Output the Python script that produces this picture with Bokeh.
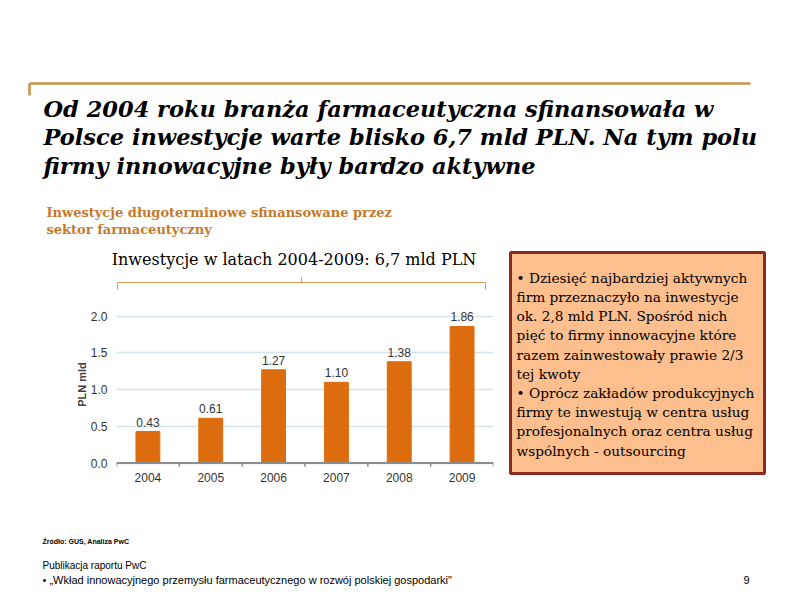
from bokeh.plotting import figure
from bokeh.layouts import column, row
from bokeh.models import Range1d, FactorRange, FixedTicker, NumeralTickFormatter
from bokeh.core.properties import value
from bokeh.embed import file_html
from bokeh.resources import INLINE

# ---- data ----
years = ["2004", "2005", "2006", "2007", "2008", "2009"]
investments = [0.43, 0.61, 1.27, 1.10, 1.38, 1.86]
y_ticks = [0.0, 0.5, 1.0, 1.5, 2.0]

title_lines = [
    "Od 2004 roku branża farmaceutyczna sfinansowała w",
    "Polsce inwestycje warte blisko 6,7 mld PLN. Na tym polu",
    "firmy innowacyjne były bardzo aktywne",
]
subtitle_lines = [
    "Inwestycje długoterminowe sfinansowane przez",
    "sektor farmaceutyczny",
]
chart_header = "Inwestycje w latach 2004-2009: 6,7 mld PLN"
y_label = "PLN mld"
box_lines = [
    "• Dziesięć najbardziej aktywnych",
    "firm przeznaczyło na inwestycje",
    "ok. 2,8 mld PLN. Spośród nich",
    "pięć to firmy innowacyjne które",
    "razem zainwestowały prawie 2/3",
    "tej kwoty",
    "• Oprócz zakładów produkcyjnych",
    "firmy te inwestują w centra usług",
    "profesjonalnych oraz centra usług",
    "wspólnych - outsourcing",
]
source_text = "Źródło: GUS, Analiza PwC"
footer_line1 = "Publikacja raportu  PwC"
footer_line2 = "• „Wkład innowacyjnego przemysłu farmaceutycznego w rozwój polskiej gospodarki\""
page_number = "9"

ORANGE_LINE = "#C8914A"
BAR = "#DD6C0E"
SERIF = value("DejaVu Serif")
SANS = value("Liberation Sans")


def deco(w, h, **kw):
    f = figure(width=w, height=h, x_range=Range1d(0, w), y_range=Range1d(h, 0),
               min_border=0, toolbar_location=None, output_backend="svg",
               x_axis_type=None, y_axis_type=None, outline_line_color=None, **kw)
    f.grid.visible = False
    f.frame_align = False
    return f


# ---- header (page y 0..250) ----
hdr = deco(792, 250)
hdr.segment(x0=[29], y0=[83], x1=[750], y1=[83], line_color=ORANGE_LINE, line_width=2.5)
hdr.segment(x0=[29], y0=[83], x1=[29], y1=[95], line_color=ORANGE_LINE, line_width=2.5)
hdr.text(x=[43] * len(title_lines), y=[108 + 28.5 * i for i in range(len(title_lines))],
         text=title_lines, text_font=SERIF, text_font_style="bold italic",
         text_font_size="22.5px", text_baseline="alphabetic", text_color="#000000")
hdr.text(x=[46] * len(subtitle_lines), y=[212 + 16.5 * i for i in range(len(subtitle_lines))],
         text=subtitle_lines, text_font=SERIF, text_font_style="bold",
         text_font_size="13px", text_baseline="alphabetic", text_color="#C47A2C")

# ---- chart header with bracket (page y 250..295) ----
sub = deco(505, 45)
sub.text(x=[293.5], y=[9], text=[chart_header], text_font=SERIF, text_font_size="16px",
         text_align="center", text_baseline="middle", text_color="#000000")
BR = "#DA9A52"
sub.segment(x0=[117], y0=[32], x1=[485], y1=[32], line_color=BR, line_width=1)
sub.segment(x0=[117, 485], y0=[32, 32], x1=[117, 485], y1=[39, 39], line_color=BR, line_width=1)
sub.segment(x0=[301], y0=[32], x1=[301], y1=[27], line_color=BR, line_width=1)

# ---- bar chart (page y 295..490) ----
p = figure(width=505, height=195, x_range=FactorRange(factors=years, range_padding=0),
           y_range=Range1d(-0.06, 2.2), min_border_left=116, min_border_right=12,
           min_border_top=6, min_border_bottom=23, toolbar_location=None,
           output_backend="svg", outline_line_color=None)
p.frame_align = False
p.vbar(x=years, top=investments, width=0.38, color=BAR)
p.segment(x0=[0], y0=[0], x1=[len(years)], y1=[0], line_color="#8C8C8C", line_width=2)
bounds = list(range(len(years) + 1))
p.segment(x0=bounds, y0=[0] * len(bounds), x1=bounds, y1=[-0.05] * len(bounds),
          line_color="#8C8C8C", line_width=1.5)
p.text(x=years, y=investments, text=[f"{v:.2f}" for v in investments],
       text_align="center", text_baseline="bottom", y_offset=-5,
       text_font=SANS, text_font_size="12px", text_color="#333333")
p.xgrid.grid_line_color = None
p.ygrid.grid_line_color = "#D5E3EA"
p.ygrid.grid_line_width = 1.5
p.yaxis.ticker = FixedTicker(ticks=y_ticks)
p.yaxis.formatter = NumeralTickFormatter(format="0.0")
p.yaxis.axis_line_color = None
p.yaxis.major_tick_line_color = None
p.yaxis.major_tick_out = 0
p.yaxis.major_tick_in = 0
p.yaxis.minor_tick_line_color = None
p.yaxis.major_label_standoff = 9
p.yaxis.major_label_text_font = "Liberation Sans"
p.yaxis.major_label_text_font_size = "12px"
p.yaxis.major_label_text_color = "#333333"
p.yaxis.axis_label = y_label
p.yaxis.axis_label_text_font = "Liberation Sans"
p.yaxis.axis_label_text_font_style = "bold"
p.yaxis.axis_label_text_font_size = "11px"
p.yaxis.axis_label_standoff = 0
p.xaxis.axis_line_color = None
p.xaxis.major_tick_line_color = None
p.xaxis.major_tick_out = 0
p.xaxis.major_label_standoff = 5
p.xaxis.major_label_text_font = "Liberation Sans"
p.xaxis.major_label_text_font_size = "12px"
p.xaxis.major_label_text_color = "#333333"

# ---- right text box (page x 505..792, y 250..490) ----
box = deco(287, 240)
box.quad(left=[5], right=[259], top=[2], bottom=[223], fill_color="#FDBF8D",
         line_color="#8B2A1E", line_width=3)
box.text(x=[11] * len(box_lines), y=[27.3 + 19.2 * i for i in range(len(box_lines))],
         text=box_lines, text_font=SERIF, text_font_size="13.7px",
         text_baseline="middle", text_color="#000000")

# ---- footer (page y 490..612) ----
foot = deco(792, 122)
foot.text(x=[42], y=[51], text=[source_text], text_font=SANS, text_font_style="bold",
          text_font_size="7px", text_baseline="middle", text_color="#000000")
foot.text(x=[42], y=[75], text=[footer_line1], text_font=SANS,
          text_font_size="10px", text_baseline="middle", text_color="#000000")
foot.text(x=[42], y=[89], text=[footer_line2], text_font=SANS,
          text_font_size="11px", text_baseline="middle", text_color="#000000")
foot.text(x=[746], y=[89], text=[page_number], text_font=SANS, text_font_size="11px",
          text_align="center", text_baseline="middle", text_color="#000000")

layout = column(hdr, row(column(sub, p, spacing=0), box, spacing=0), foot, spacing=0)

open("out.html", "w").write(file_html(layout, INLINE))
